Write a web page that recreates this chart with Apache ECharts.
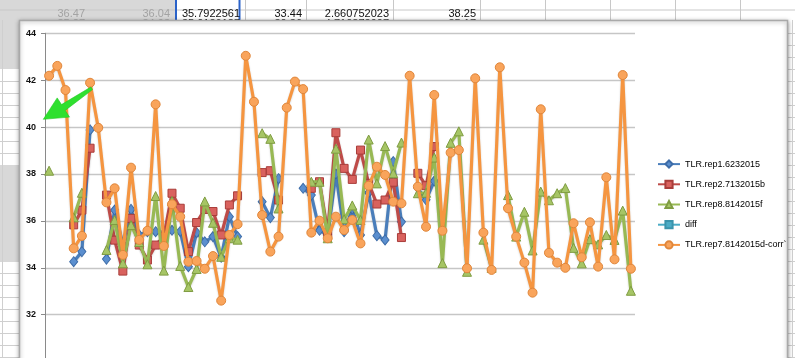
<!DOCTYPE html>
<html>
<head>
<meta charset="utf-8">
<script src="https://cdn.jsdelivr.net/npm/echarts@6/dist/echarts.min.js"></script>
<style>
html,body{margin:0;padding:0;background:#fff;}
#chart{width:795px;height:358px;}
</style>
</head>
<body>
<div id="chart"></div>
<script>
// ---- data ----
var categories = ['1','2','3','4','5','6','7','8','9','10','11','12','13','14','15','16','17','18','19','20',
  '21','22','23','24','25','26','27','28','29','30','31','32','33','34','35','36','37','38','39','40',
  '41','42','43','44','45','46','47','48','49','50','51','52','53','54','55','56','57','58','59','60',
  '61','62','63','64','65','66','67','68','69','70','71','72'];

var rep1 = [null, null, null, 34.26, 34.69, 39.88, null, 34.37, 36.46, 35.0,
  36.49, 35.4, 35.54, 35.54, 35.47, 35.6, 35.55, 34.05, 35.5, 35.11,
  35.33, 34.45, 36.18, 35.33, null, null, 36.82, 36.14, 37.8, null,
  null, 37.39, 37.1, 35.6, 35.4, 38.0, 35.54, 36.5, 35.4, 37.2,
  35.37, 35.19, 38.53, 35.96, null, 37.4, 36.9, 37.7, null, null,
  null, null, null, null, null, null, null, null, null, null,
  null, null, null, null, null, null, null, null, null, null,
  null, null];

var rep2 = [null, null, null, 35.83, 36.46, 39.1, null, 37.1, 35.18, 33.86,
  36.11, 34.97, 34.33, 34.97, 35.33, 37.18, 36.54, 34.69, 35.93, 36.49,
  36.4, 35.4, 36.68, 37.07, null, null, 38.06, 38.14, 36.89, null,
  null, null, 37.39, 37.67, 35.5, 39.76, 38.24, 37.77, 39.02, 37.6,
  36.72, 36.89, 37.65, 35.29, null, 38.03, 37.5, 39.17, null, null,
  null, null, null, null, null, null, null, null, null, null,
  null, null, null, null, null, null, null, null, null, null,
  null, null];

var rep8 = [38.14, null, null, 36.15, 37.2, null, null, 34.76, 36.04, 34.19,
  35.82, 35.1, 34.15, 37.06, 33.88, 36.85, 34.08, 33.18, 33.95, 36.83,
  35.92, 34.47, 35.26, 35.2, null, null, 39.74, 39.5, 36.53, null,
  null, null, 37.67, 37.67, 35.26, 39.08, 36.07, 36.66, 36.04, 39.47,
  37.6, 39.19, 38.03, 39.34, null, 37.18, 37.2, 38.7, 34.2, 39.33,
  39.82, 33.83, null, 35.2, 34.0, null, 37.1, 35.33, 36.39, 34.74,
  37.25, 36.88, 37.18, 37.4, 34.85, 34.19, 35.22, 35.0, 35.4, 35.19,
  36.44, 33.02];

var diff = [];  // values lie far below the visible axis range

var rep7 = [42.19, 42.61, 41.58, 34.83, 35.36, 41.89, 39.97, 36.79, 37.39, 34.55,
  38.27, 35.19, 35.58, 40.97, 34.93, 36.71, 36.18, 34.26, 34.29, 33.96,
  34.5, 32.6, 35.4, 35.86, 43.04, 41.08, 36.25, 34.69, 35.33, 40.83,
  41.94, 41.62, 35.5, 36.01, 35.26, 36.18, 35.61, 36.04, 35.04, 37.5,
  38.31, 37.96, 36.82, 36.75, 42.19, 37.46, 35.75, 41.37, 35.58, 38.91,
  39.02, 33.98, 42.08, 35.5, 33.91, 42.55, 36.54, 35.33, 34.22, 32.94,
  40.76, 34.64, 34.22, 34.0, 35.9, 34.45, 35.94, 34.05, 37.86, 34.36,
  42.22, 33.96];

var seriesNames = ['TLR.rep1.6232015', 'TLR.rep2.7132015b', 'TLR.rep8.8142015f', 'diff', 'TLR.rep7.8142015d-corr`'];

// spreadsheet cells visible behind the chart
var sheetRow1 = ['36.47', '36.04', '35.7922561', '33.44', '2.660752023', '38.25'];
var sheetRow2 = ['35.27', '34.93', '35.0126187', '30.36', '4.710872907', '35.17'];

// ---- decoration ----
var g = [];
g.push({type:'rect', shape:{x:0,y:0,width:795,height:22}, style:{fill:'#ffffff'}, z:-10});
g.push({type:'rect', shape:{x:0,y:0,width:176,height:22}, style:{fill:'#d8d8d8'}, z:-9});
var colLines = [245, 306, 393, 480, 545, 610, 675, 740];
colLines.forEach(function(x){
  g.push({type:'line', shape:{x1:x+0.5,y1:0,x2:x+0.5,y2:22}, style:{stroke:'#c8c8c8',lineWidth:1}, z:-8});
});
g.push({type:'line', shape:{x1:0,y1:10,x2:795,y2:10}, style:{stroke:'#c8c8c8',lineWidth:1}, z:-8});
g.push({type:'line', shape:{x1:176,y1:0,x2:176,y2:22}, style:{stroke:'#2a62c9',lineWidth:2}, z:-7});
g.push({type:'line', shape:{x1:239.5,y1:0,x2:239.5,y2:22}, style:{stroke:'#2a62c9',lineWidth:2}, z:-7});
var rightEdges = [85, 170, 240, 302, 389, 476];
for (var i = 0; i < sheetRow1.length; i++) {
  var col = i < 2 ? '#a3a3a3' : '#111';
  g.push({type:'text', x:rightEdges[i], y:8.5, style:{text:sheetRow1[i], fill:col, font:'11px "Liberation Sans", Arial', align:'right', verticalAlign:'alphabetic'}, z:-6});
  g.push({type:'text', x:rightEdges[i], y:18.5, style:{text:sheetRow2[i], fill:col, font:'11px "Liberation Sans", Arial', align:'right', verticalAlign:'alphabetic'}, z:-6});
}
g.push({type:'rect', shape:{x:0,y:20,width:19,height:338}, style:{fill:'#ffffff'}, z:-9});
g.push({type:'rect', shape:{x:0,y:20,width:19,height:49}, style:{fill:'#d8d8d8'}, z:-8});
g.push({type:'rect', shape:{x:0,y:165,width:19,height:97}, style:{fill:'#d8d8d8'}, z:-8});
var rowYs = [81.5, 93.5, 105.5, 117.5, 129.5, 141.5, 153.5, 273.5, 285.5, 297.5, 309.5, 321.5, 333.5, 345.5, 357.5];
rowYs.forEach(function(y){
  g.push({type:'line', shape:{x1:0,y1:y,x2:19,y2:y}, style:{stroke:'#cfcfcf',lineWidth:1}, z:-7});
  g.push({type:'line', shape:{x1:788,y1:y,x2:795,y2:y}, style:{stroke:'#cfcfcf',lineWidth:1}, z:-7});
});
[33.5,45.5,57.5,69.5,165.5,177.5,189.5,201.5,213.5,225.5,237.5,249.5,261.5].forEach(function(y){
  g.push({type:'line', shape:{x1:788,y1:y,x2:795,y2:y}, style:{stroke:'#cfcfcf',lineWidth:1}, z:-7});
});
g.push({type:'line', shape:{x1:2.5,y1:20,x2:2.5,y2:358}, style:{stroke:'#cfcfcf',lineWidth:1}, z:-7});
g.push({type:'line', shape:{x1:792.5,y1:20,x2:792.5,y2:358}, style:{stroke:'#cfcfcf',lineWidth:1}, z:-7});
g.push({type:'rect', shape:{x:19.5,y:20.5,width:768,height:400}, style:{fill:'#ffffff', stroke:'#a9a9a9', lineWidth:1.5, shadowBlur:4, shadowColor:'rgba(0,0,0,0.35)', shadowOffsetX:0, shadowOffsetY:1}, z:-5});
g.push({type:'polygon', shape:{points:[[90.9,87.0],[61.5,104.6],[57.2,97.9],[43.3,119.3],[69.5,117.1],[65.2,110.4],[92.5,89.6]]},
  style:{fill:'#2fe02f', stroke:'#22c922', lineWidth:0.6}, z:100});

function mk(name, data, symbol, size, lineColor, fill, border, z) {
  return {
    name: name, type: 'line', data: data, symbol: symbol, symbolSize: size,
    showAllSymbol: true, connectNulls: false, z: z,
    lineStyle: {color: lineColor, width: 3.2, shadowBlur: 2, shadowColor: 'rgba(0,0,0,0.18)', shadowOffsetY: 1},
    itemStyle: {color: fill, borderColor: border, borderWidth: 1},
    emphasis: {disabled: true}
  };
}

var chart = echarts.init(document.getElementById('chart'), null, {renderer: 'canvas'});
chart.setOption({
  animation: false,
  backgroundColor: '#ffffff',
  graphic: {elements: g},
  grid: {left: 45, top: 33.3, width: 590, height: 328.3, containLabel: false, outerBoundsMode: 'none'},
  legend: {
    orient: 'vertical', left: 652, top: 154.5,
    itemWidth: 22, itemHeight: 9, itemGap: 11,
    textStyle: {fontSize: 9, color: '#000', fontFamily: '"Liberation Sans", Arial, sans-serif', lineHeight: 9},
    data: seriesNames
  },
  xAxis: {
    type: 'category', data: categories, boundaryGap: true,
    axisLine: {show: false}, axisTick: {show: false}, axisLabel: {show: false}, splitLine: {show: false}
  },
  yAxis: {
    type: 'value', min: 30, max: 44, interval: 2,
    axisLine: {show: true, lineStyle: {color: '#8a8a8a', width: 1}},
    axisTick: {show: true, length: 4, lineStyle: {color: '#8a8a8a'}},
    axisLabel: {fontSize: 9, fontWeight: 'bold', color: '#111', margin: 9, showMinLabel: false, fontFamily: '"Liberation Sans", Arial, sans-serif'},
    splitLine: {show: true, lineStyle: {color: '#c6c6c6', width: 1.3}}
  },
  series: [
    mk(seriesNames[0], rep1, 'diamond', [8, 10], '#4a7ebb', '#5b8fcf', '#3d6ca8', 2),
    mk(seriesNames[1], rep2, 'rect', 8, '#be4b48', '#d9625e', '#a93d3a', 3),
    mk(seriesNames[2], rep8, 'triangle', 9, '#98b954', '#a6c565', '#7f9c42', 4),
    mk(seriesNames[3], diff, 'rect', 5, '#4bacc6', '#4bacc6', '#3a93ab', 5),
    mk(seriesNames[4], rep7, 'circle', 9, '#f59540', '#f9a45b', '#e0863a', 6)
  ]
});
</script>
</body>
</html>
